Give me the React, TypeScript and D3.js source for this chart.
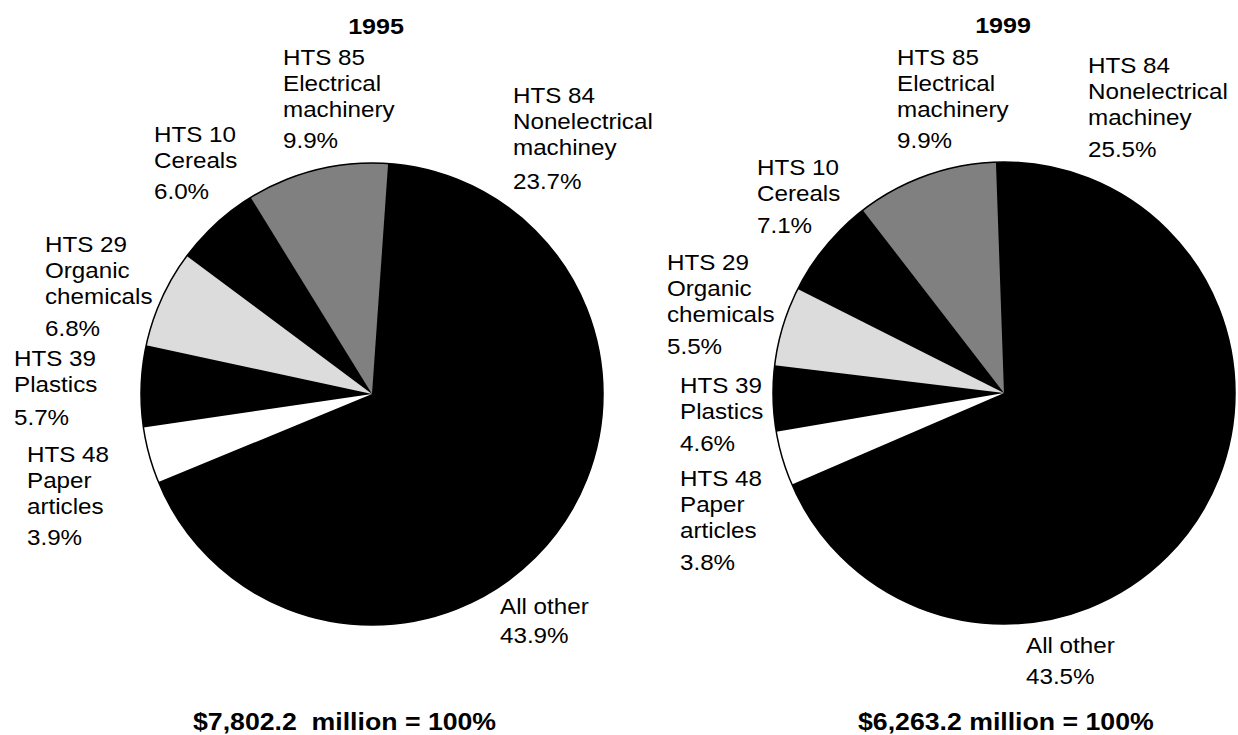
import React from "react";
import * as d3 from "d3";

// ---- Data ----
const categories = [
  "Nonelectrical machinery",
  "All other",
  "Paper articles",
  "Plastics",
  "Organic chemicals",
  "Cereals",
  "Electrical machinery",
];
const labelLines1995 = [
  ["HTS 84", "Nonelectrical", "machiney"],
  ["All other"],
  ["HTS 48", "Paper", "articles"],
  ["HTS 39", "Plastics"],
  ["HTS 29", "Organic", "chemicals"],
  ["HTS 10", "Cereals"],
  ["HTS 85", "Electrical", "machinery"],
];
const labelLines1999 = [
  ["HTS 84", "Nonelectrical", "machiney"],
  ["All other"],
  ["HTS 48", "Paper", "articles"],
  ["HTS 39", "Plastics"],
  ["HTS 29", "Organic", "chemicals"],
  ["HTS 10", "Cereals"],
  ["HTS 85", "Electrical", "machinery"],
];
const share1995 = [23.7, 43.9, 3.9, 5.7, 6.8, 6.0, 9.9];
const share1999 = [25.5, 43.5, 3.8, 4.6, 5.5, 7.1, 9.9];
const years = ["1995", "1999"];
const totals = ["$7,802.2\u00a0\u00a0million = 100%", "$6,263.2 million = 100%"];

// ---- Styles / layout ----
const sliceColors = ["#000000", "#000000", "#ffffff", "#000000", "#dcdcdc", "#000000", "#808080"];
const FONT = "'Liberation Sans', Arial, Helvetica, sans-serif";
const SX = 1.1;
const LINE = 26;

const pies = [
  {
    cx: 372, cy: 394, r: 231, startDeg: 4,
    titleX: 376, titleY: 34,
    totalX: 193, totalY: 730,
    labels: [
      { x: 513, y: 103, py: 189 },
      { x: 500, y: 614, py: 643 },
      { x: 27, y: 462, py: 545 },
      { x: 14, y: 366, py: 425 },
      { x: 45, y: 252, py: 336 },
      { x: 154, y: 142, py: 199 },
      { x: 283, y: 65, py: 148 },
    ],
  },
  {
    cx: 1004, cy: 393, r: 231, startDeg: -2,
    titleX: 1003, titleY: 33,
    totalX: 858, totalY: 730,
    labels: [
      { x: 1088, y: 73, py: 157 },
      { x: 1026, y: 653, py: 684 },
      { x: 680, y: 486, py: 570 },
      { x: 680, y: 393, py: 451 },
      { x: 667, y: 270, py: 354 },
      { x: 757, y: 175, py: 233 },
      { x: 897, y: 65, py: 148 },
    ],
  },
];

const seriesData = [share1995, share1999];
const seriesLines = [labelLines1995, labelLines1999];

function T({ x, y, children, bold = false, size = 22, sx = SX, anchor = "start" }: any) {
  return (
    <text
      transform={`translate(${x},${y}) scale(${sx},1)`}
      fontFamily={FONT}
      fontSize={size}
      fontWeight={bold ? "bold" : "normal"}
      textAnchor={anchor}
      fill="#000"
      style={{ whiteSpace: "pre" }}
    >
      {children}
    </text>
  );
}

function Pie({ idx }: { idx: number }) {
  const cfg = pies[idx];
  const values = seriesData[idx];
  const start = (cfg.startDeg * Math.PI) / 180;
  const pieGen = d3
    .pie<number>()
    .sort(null)
    .value((d) => d)
    .startAngle(start)
    .endAngle(start + 2 * Math.PI);
  const arcs = pieGen(values);
  const arcGen = d3.arc<d3.PieArcDatum<number>>().innerRadius(0).outerRadius(cfg.r);
  return (
    <g>
      <g transform={`translate(${cfg.cx},${cfg.cy})`}>
        <circle r={cfg.r} fill="#000" />
        {arcs.map((a, i) =>
          sliceColors[i] === "#000000" ? null : (
            <path key={categories[i]} d={arcGen(a) || ""} fill={sliceColors[i]} />
          )
        )}
        <circle r={cfg.r} fill="none" stroke="#000" strokeWidth={1.5} />
      </g>
      <T x={cfg.titleX} y={cfg.titleY} bold size={22} sx={1.14} anchor="middle">
        {years[idx]}
      </T>
      {cfg.labels.map((l, i) => (
        <g key={categories[i]}>
          {seriesLines[idx][i].map((line, j) => (
            <T key={j} x={l.x} y={l.y + j * LINE}>
              {line}
            </T>
          ))}
          <T x={l.x} y={l.py}>
            {values[i].toFixed(1) + "%"}
          </T>
        </g>
      ))}
      <T x={cfg.totalX} y={cfg.totalY} bold size={23} sx={1.16}>
        {totals[idx]}
      </T>
    </g>
  );
}

export default function App() {
  return (
    <svg
      width={1238}
      height={735}
      style={{ position: "fixed", left: 0, top: 0, background: "#fff", display: "block" }}
    >
      <rect width={1238} height={735} fill="#fff" />
      <Pie idx={0} />
      <Pie idx={1} />
    </svg>
  );
}
